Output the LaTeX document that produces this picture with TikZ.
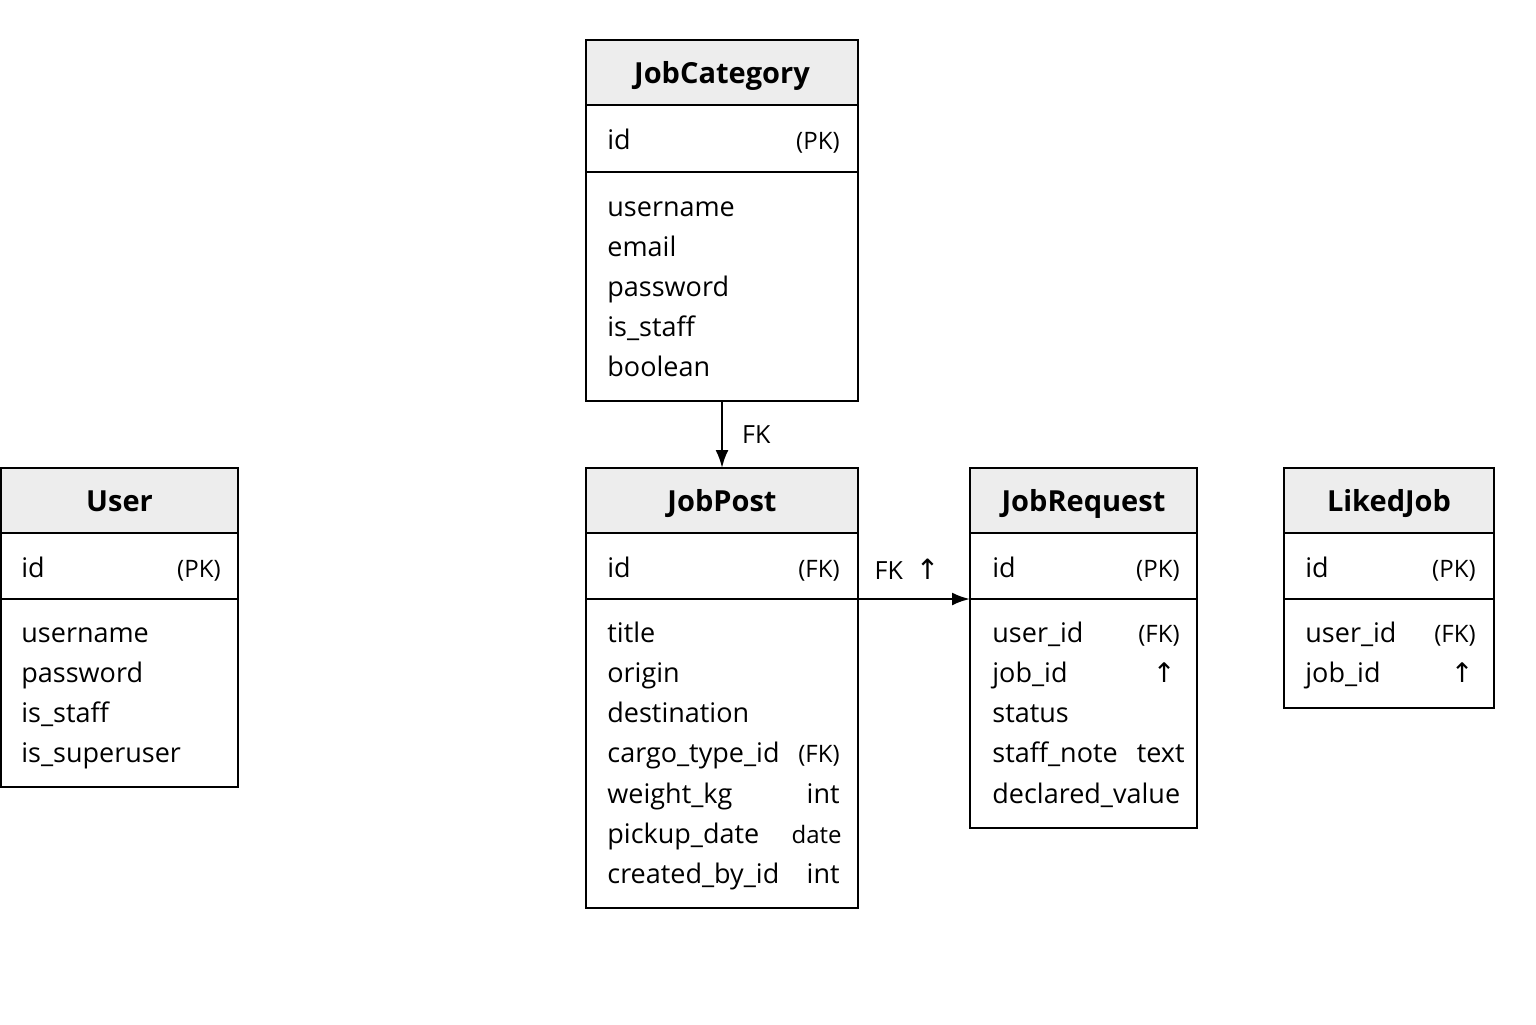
\documentclass[tikz,border=0pt]{standalone}
\usepackage{fontspec}
\setmainfont{Open Sans}
\newfontfamily\symfont{DejaVu Sans}
\usepackage{tikz}
\usetikzlibrary{positioning}
\usetikzlibrary{arrows.meta}
\tikzstyle{hd}=[draw, line width=1.2pt, fill=black!7, inner sep=0pt, outer sep=0pt, minimum height=32.5pt, text height=1.05em, text depth=0pt, font=\fontsize{14.5}{17}\selectfont\bfseries]
\tikzstyle{row}=[draw, line width=1.2pt, inner sep=0pt, outer sep=0pt]
\tikzstyle{lt}=[anchor=mid west, inner sep=0pt, yshift=-2.5pt, font=\fontsize{13.5}{16}\selectfont]
\tikzstyle{rt}=[anchor=mid east, inner sep=0pt, yshift=-2.5pt, font=\fontsize{12}{14}\selectfont]
\tikzstyle{edge}=[line width=1.2pt, -{Latex[length=9pt, width=6.5pt]}]
\tikzstyle{edgeLabel}=[midway, inner sep=0pt, font=\fontsize{12.5}{14}\selectfont]

\begin{document}
\begin{tikzpicture}[x=0.5pt, y=-0.5pt]
	\useasboundingbox[fill=white] (0,0) rectangle (1536,1024);
	% JobCategory
	\node[hd, minimum width=136pt] (jcHead) at (722,72.5) {JobCategory};
	\node[row, minimum width=136pt, minimum height=33.5pt, below=0pt of jcHead] (jcKey) {};
	\node[row, minimum width=136pt, minimum height=114.5pt, below=0pt of jcKey] (jcBody) {};
	\node[lt] (jcId) at (607,139) {id};
	\node[rt] (jcPk) at (840,139) {(PK)};
	\node[lt] (jcUser) at (607,206) {username};
	\node[lt] (jcMail) at (607,246) {email};
	\node[lt] (jcPass) at (607,286) {password};
	\node[lt] (jcStaff) at (607,326) {is\_staff};
	\node[lt] (jcBool) at (607,366) {boolean};
	% User
	\node[hd, minimum width=118.5pt] (uHead) at (119.5,500.5) {User};
	\node[row, minimum width=118.5pt, minimum height=33pt, below=0pt of uHead] (uKey) {};
	\node[row, minimum width=118.5pt, minimum height=94pt, below=0pt of uKey] (uBody) {};
	\node[lt] (uId) at (21,567) {id};
	\node[rt] (uPk) at (221,567) {(PK)};
	\node[lt] (uUser) at (21,632) {username};
	\node[lt] (uPass) at (21,672) {password};
	\node[lt] (uStaff) at (21,712) {is\_staff};
	\node[lt] (uSuper) at (21,752) {is\_superuser};
	% JobPost
	\node[hd, minimum width=136pt] (jpHead) at (722,500.5) {JobPost};
	\node[row, minimum width=136pt, minimum height=33pt, below=0pt of jpHead] (jpKey) {};
	\node[row, minimum width=136pt, minimum height=154.5pt, below=0pt of jpKey] (jpBody) {};
	\node[lt] (jpId) at (607,567) {id};
	\node[rt] (jpFk) at (840,567) {(FK)};
	\node[lt] (jpTitle) at (607,632) {title};
	\node[lt] (jpOrig) at (607,672) {origin};
	\node[lt] (jpDest) at (607,712) {destination};
	\node[lt] (jpCargo) at (607,752) {cargo\_type\_id};
	\node[rt] (jpCargoFk) at (840,752) {(FK)};
	\node[lt] (jpWeight) at (607,793) {weight\_kg};
	\node[lt, anchor=mid east] (jpWeightT) at (840,793) {int};
	\node[lt] (jpPick) at (607,833) {pickup\_date};
	\node[rt] (jpPickT) at (842,833) {date};
	\node[lt] (jpBy) at (607,873) {created\_by\_id};
	\node[lt, anchor=mid east] (jpByT) at (840,873) {int};
	% JobRequest
	\node[hd, minimum width=113.5pt] (jrHead) at (1083.5,500.5) {JobRequest};
	\node[row, minimum width=113.5pt, minimum height=33pt, below=0pt of jrHead] (jrKey) {};
	\node[row, minimum width=113.5pt, minimum height=114.5pt, below=0pt of jrKey] (jrBody) {};
	\node[lt] (jrId) at (992,567) {id};
	\node[rt] (jrPk) at (1180,567) {(PK)};
	\node[lt] (jrUser) at (992,632) {user\_id};
	\node[rt] (jrUserFk) at (1180,632) {(FK)};
	\node[lt] (jrJob) at (992,672) {job\_id};
	\node[lt, anchor=mid east] (jrJobUp) at (1176,672) {\symfont ↑};
	\node[lt] (jrStatus) at (992,712) {status};
	\node[lt] (jrNote) at (992,752) {staff\_note};
	\node[lt, anchor=mid east] (jrNoteT) at (1185,752) {text};
	\node[lt] (jrValue) at (992,793) {declared\_value};
	% LikedJob
	\node[hd, minimum width=105pt] (ljHead) at (1389,500.5) {LikedJob};
	\node[row, minimum width=105pt, minimum height=33pt, below=0pt of ljHead] (ljKey) {};
	\node[row, minimum width=105pt, minimum height=54.5pt, below=0pt of ljKey] (ljBody) {};
	\node[lt] (ljId) at (1305,567) {id};
	\node[rt] (ljPk) at (1476,567) {(PK)};
	\node[lt] (ljUser) at (1305,632) {user\_id};
	\node[rt] (ljUserFk) at (1476,632) {(FK)};
	\node[lt] (ljJob) at (1305,672) {job\_id};
	\node[lt, anchor=mid east] (ljJobUp) at (1474,672) {\symfont ↑};
	% links
	\draw[edge] (jcBody) -- (jpHead) node[edgeLabel, right=9.5pt] {FK};
	\draw[edge] (jpKey.south east) -- (jrKey.south west) node[edgeLabel, above=9pt, xshift=-3.5pt] {FK\ \ {\symfont\fontsize{14}{16}\selectfont ↑}};
\end{tikzpicture}
\end{document}
